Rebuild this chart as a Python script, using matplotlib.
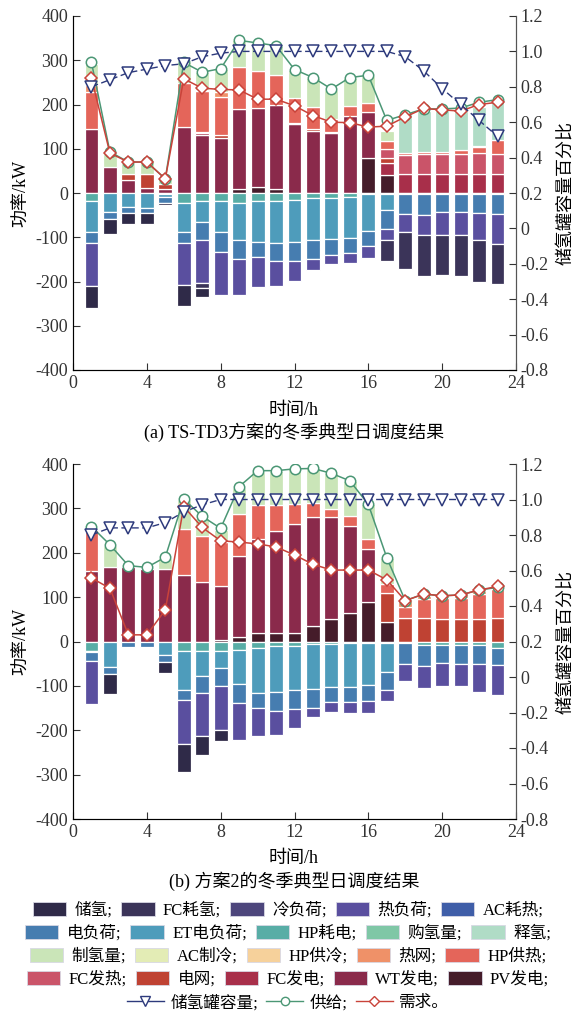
import numpy as np
import matplotlib.pyplot as plt
from matplotlib.patches import Patch
from matplotlib.lines import Line2D

plt.rcParams['font.family'] = ['Liberation Serif', 'Noto Sans CJK SC']
plt.rcParams['axes.unicode_minus'] = False

hours = np.arange(1, 24)
Z = [0] * 23

# ---------------- (a) TS-TD3 方案 ----------------
pv_a   = [0, 0, 0, 0, 0, 0, 0, 0, 8, 14, 9, 0, 0, 0, 0, 78, 41, 0, 0, 0, 0, 0, 0]
wt_a   = [145, 58, 30, 11, 9, 149, 130, 124, 182, 178, 191, 156, 139, 135, 173, 105, 0, 0, 0, 0, 0, 0, 0]
fcp_a  = [0, 0, 0, 0, 0, 0, 5, 0, 0, 0, 0, 0, 0, 0, 0, 0, 27, 44, 44, 44, 44, 44, 44]
grid_a = [0, 0, 14, 33, 12, 0, 0, 6, 0, 0, 0, 0, 5, 0, 0, 0, 11, 0, 0, 0, 0, 0, 0]
fch_a  = [0, 0, 0, 0, 0, 0, 3, 0, 0, 0, 0, 2, 0, 3, 0, 0, 21, 43, 45, 45, 44, 46, 45]
hph_a  = [83, 0, 0, 0, 0, 100, 92, 88, 95, 84, 67, 57, 50, 30, 23, 21, 17, 3, 3, 3, 9, 14, 30]
net_a  = [15, 0, 0, 0, 0, 0, 3, 10, 0, 0, 0, 0, 0, 0, 0, 0, 0, 0, 0, 0, 0, 3, 0]
h2p_a  = [49, 32, 24, 25, 10, 47, 40, 52, 60, 63, 66, 63, 66, 65, 64, 61, 24, 0, 0, 0, 0, 0, 0]
rel_a  = [0, 0, 0, 0, 0, 0, 0, 0, 0, 0, 0, 0, 0, 0, 0, 0, 0, 86, 93, 96, 88, 88, 88]

hpe_a  = [-19, 0, 0, 0, -3, -22, -17, -18, -22, -19, -18, -15, -12, -11, -10, -3, -3, -3, -3, -3, -3, -3, -3]
et_a   = [-70, -44, -31, -33, -5, -67, -49, -71, -85, -91, -95, -95, -95, -94, -92, -82, -36, 0, 0, 0, 0, 0, 0]
el_a   = [-24, -14, -14, -13, -15, -24, -41, -44, -42, -35, -41, -44, -43, -34, -33, -35, -42, -44, -46, -39, -41, -42, -44]
heat_a = [-98, 0, 0, 0, 0, -96, -96, -98, -82, -67, -57, -44, -25, -21, -23, -27, -26, -42, -47, -52, -50, -62, -68]
fcu_a  = [0, 0, 0, 0, 0, 0, -12, 0, 0, 0, 0, 0, 0, 0, 0, 0, -46, -83, -92, -91, -93, -93, -90]
sto_a  = [-50, -34, -24, -24, -5, -47, -20, 0, 0, 0, 0, 0, 0, 0, 0, 0, 0, 0, 0, 0, 0, 0, 0]

tank_a   = [0.80, 0.84, 0.88, 0.90, 0.92, 0.93, 0.97, 0.99, 1.0, 1.0, 1.0, 1.0, 1.0, 1.0, 1.0, 1.0,
            1.0, 0.97, 0.89, 0.79, 0.70, 0.61, 0.52]
supply_a = [295, 93, 70, 70, 32, 295, 273, 281, 345, 339, 333, 279, 261, 235, 261, 266, 164, 177, 190, 190, 192, 205, 211]
demand_a = [260, 90, 70, 70, 32, 258, 237, 234, 233, 212, 212, 197, 175, 160, 159, 149, 151, 172, 191, 188, 185, 200, 205]

# ---------------- (b) 方案2 ----------------
pv_b   = [0, 0, 0, 0, 0, 0, 0, 4, 10, 20, 19, 20, 34, 51, 65, 88, 43, 0, 0, 0, 0, 0, 0]
wt_b   = [159, 169, 169, 164, 164, 150, 134, 121, 183, 211, 230, 245, 246, 229, 196, 121, 0, 0, 0, 0, 0, 0, 0]
grid_b = [0, 0, 0, 0, 0, 0, 0, 0, 0, 0, 0, 0, 0, 0, 0, 0, 67, 53, 54, 51, 51, 51, 54]
hph_b  = [92, 0, 0, 0, 0, 103, 104, 100, 95, 76, 58, 45, 31, 19, 22, 21, 19, 24, 42, 48, 48, 56, 65]
net_b  = [0, 0, 0, 0, 0, 0, 0, 0, 0, 0, 0, 0, 0, 0, 0, 0, 0, 14, 6, 4, 5, 7, 3]
h2p_b  = [0, 47, 0, 0, 24, 66, 41, 27, 59, 76, 77, 80, 79, 80, 79, 79, 59, 0, 0, 0, 0, 0, 0]

hpe_b  = [-21, 0, 0, 0, 0, -22, -22, -22, -20, -15, -11, -10, -5, -5, -4, -3, -4, -4, -8, -7, -8, -8, -14]
et_b   = [-3, -57, 0, 0, -30, -87, -55, -37, -76, -101, -102, -99, -101, -97, -98, -96, -65, 0, 0, 0, 0, 0, 0]
el_b   = [-19, -16, -12, -12, -16, -22, -39, -42, -42, -34, -43, -43, -44, -35, -35, -36, -40, -47, -47, -42, -42, -42, -39]
heat_b = [-97, 0, 0, 0, 0, -99, -98, -99, -83, -64, -54, -42, -21, -21, -23, -25, -26, -39, -49, -51, -50, -64, -67]
sto_b  = [0, -46, 0, 0, -25, -64, -41, -24, 0, 0, 0, 0, 0, 0, 0, 0, 0, 0, 0, 0, 0, 0, 0]

tank_b   = [0.80, 0.84, 0.84, 0.84, 0.87, 0.93, 0.97, 1.0, 1.0, 1.0, 1.0, 1.0, 1.0, 1.0, 1.0, 1.0,
            1.0, 1.0, 1.0, 1.0, 1.0, 1.0, 1.0]
supply_b = [259, 218, 171, 167, 190, 321, 282, 255, 349, 385, 385, 389, 390, 379, 362, 309, 189, 92, 107, 103, 105, 116, 122]
demand_b = [143, 120, 15, 15, 71, 304, 257, 227, 224, 220, 213, 195, 174, 161, 161, 161, 139, 92, 107, 103, 105, 116, 124]

# axis ticks
x_ticks = [0, 4, 8, 12, 16, 20, 24]
y_ticks = [-400, -300, -200, -100, 0, 100, 200, 300, 400]
r_ticks = [-0.8, -0.6, -0.4, -0.2, 0, 0.2, 0.4, 0.6, 0.8, 1.0, 1.2]
r_labels = ['-0.8', '-0.6', '-0.4', '-0.2', '0', '0.2', '0.4', '0.6', '0.8', '1.0', '1.2']

# legend order (negative part, then positive part)
NAMES_NEG = ['储氢', 'FC耗氢', '冷负荷', '热负荷', 'AC耗热', '电负荷', 'ET电负荷', 'HP耗电']
NAMES_POS = ['购氢量', '释氢', '制氢量', 'AC制冷', 'HP供冷', '热网', 'HP供热',
             'FC发热', '电网', 'FC发电', 'WT发电', 'PV发电']
COLORS = {
    '储氢': '#2f2a48', 'FC耗氢': '#3b3459', '冷负荷': '#4d467c', '热负荷': '#5a4f9f',
    'AC耗热': '#3f5ea8', '电负荷': '#467db0', 'ET电负荷': '#4e9cbb', 'HP耗电': '#58ada6',
    '购氢量': '#7fc7a6', '释氢': '#b0dcc6', '制氢量': '#cae5b8', 'AC制冷': '#e3ecb5',
    'HP供冷': '#f6d19b', '热网': '#ef9168', 'HP供热': '#e4655a', 'FC发热': '#ca5469',
    '电网': '#bf4233', 'FC发电': '#a82f4a', 'WT发电': '#8a2a4b', 'PV发电': '#451c2a',
}
C_TANK, C_SUP, C_DEM = '#2d3a7c', '#4b9775', '#c9433a'

series_a = {'PV发电': pv_a, 'WT发电': wt_a, 'FC发电': fcp_a, '电网': grid_a, 'FC发热': fch_a,
            'HP供热': hph_a, '热网': net_a, '制氢量': h2p_a, '释氢': rel_a,
            'HP耗电': hpe_a, 'ET电负荷': et_a, '电负荷': el_a, '热负荷': heat_a,
            'FC耗氢': fcu_a, '储氢': sto_a}
series_b = {'PV发电': pv_b, 'WT发电': wt_b, '电网': grid_b, 'HP供热': hph_b, '热网': net_b,
            '制氢量': h2p_b, 'HP耗电': hpe_b, 'ET电负荷': et_b, '电负荷': el_b,
            '热负荷': heat_b, '储氢': sto_b}

W, H = 576, 1016
fig = plt.figure(figsize=(W / 100, H / 100), dpi=100)
FS = 13


def draw(ax, series, tank, supply, demand):
    base_p = np.zeros(23)
    base_n = np.zeros(23)
    for name in reversed(NAMES_POS):
        v = np.array(series.get(name, Z), float)
        m = v != 0
        ax.bar(hours[m], v[m], bottom=base_p[m], width=0.75, color=COLORS[name],
               edgecolor='white', linewidth=0.9, zorder=2)
        base_p += v
    for name in reversed(NAMES_NEG):
        v = np.array(series.get(name, Z), float)
        m = v != 0
        ax.bar(hours[m], v[m], bottom=base_n[m], width=0.75, color=COLORS[name],
               edgecolor='white', linewidth=0.9, zorder=2)
        base_n += v
    ax.plot(hours, supply, color=C_SUP, lw=1.1, marker='o', ms=7.5, mfc='white',
            mec=C_SUP, mew=1.1, zorder=5)
    ax.plot(hours, demand, color=C_DEM, lw=1.1, marker='D', ms=6.5, mfc='white',
            mec=C_DEM, mew=1.1, zorder=6)
    ax.set_xlim(0, 24)
    ax.set_ylim(-400, 400)
    ax.set_xticks(x_ticks)
    ax.set_yticks(y_ticks)
    ax.tick_params(direction='in', labelsize=FS, length=5, colors='#333333')
    ax.spines['top'].set_visible(False)
    for s in ('left', 'bottom', 'right'):
        ax.spines[s].set_color('#555555')
    ax2 = ax.twinx()
    ax2.plot(hours, tank, color=C_TANK, lw=1.0, ls=(0, (5, 2.5)), marker='v', ms=8.5,
             mfc='white', mec=C_TANK, mew=1.1, zorder=7)
    ax2.set_ylim(-0.8, 1.2)
    ax2.set_yticks(r_ticks)
    ax2.set_yticklabels(r_labels)
    ax2.tick_params(direction='in', labelsize=FS, length=5, colors='#333333')
    ax2.spines['top'].set_visible(False)
    ax2.spines['right'].set_color('#555555')


ax_a = fig.add_axes([73 / W, 1 - 370 / H, 443 / W, 354 / H])
draw(ax_a, series_a, tank_a, supply_a, demand_a)
ax_b = fig.add_axes([73 / W, 1 - 819 / H, 443 / W, 355 / H])
draw(ax_b, series_b, tank_b, supply_b, demand_b)

# axis titles and captions
for top, bot, cap in ((16, 370, '(a) TS-TD3方案的冬季典型日调度结果'),
                      (464, 819, '(b) 方案2的冬季典型日调度结果')):
    mid = 1 - (top + bot) / 2 / H
    fig.text(22 / W, mid, '功率/kW', rotation=90, ha='center', va='center', fontsize=FS)
    fig.text(566 / W, mid, '储氢罐容量百分比', rotation=90, ha='center', va='center', fontsize=FS)
    fig.text(294 / W, 1 - (bot + 40) / H, '时间/h', ha='center', va='center', fontsize=FS)
    fig.text(294 / W, 1 - (bot + 62) / H, cap, ha='center', va='center', fontsize=FS)

# legend: one row per legend, like the reference
LFS = 12
names_all = NAMES_NEG + NAMES_POS
rows = [names_all[0:5], names_all[5:10], names_all[10:15], names_all[15:20]]
row_y = [910, 933, 956, 979]
for names, y in zip(rows, row_y):
    hs = [Patch(facecolor=COLORS[n], edgecolor='#d8d8e4', linewidth=0.6) for n in names]
    fig.legend(hs, [n + ';' for n in names], loc='center', bbox_to_anchor=(0.5, 1 - y / H),
               ncol=5, frameon=False, fontsize=LFS, handlelength=2.0, handleheight=0.9,
               handletextpad=0.5, columnspacing=0.55, borderpad=0, borderaxespad=0)

line_h = [Line2D([], [], color=C_TANK, lw=1.0, marker='v', ms=7, mfc='white', mec=C_TANK),
          Line2D([], [], color=C_SUP, lw=1.0, marker='o', ms=6, mfc='white', mec=C_SUP),
          Line2D([], [], color=C_DEM, lw=1.0, marker='D', ms=5.5, mfc='white', mec=C_DEM)]
fig.legend(line_h, ['储氢罐容量;', '供给;', '需求。'], loc='center',
           bbox_to_anchor=(0.5, 1 - 1003 / H), ncol=3, frameon=False, fontsize=LFS,
           handlelength=2.2, handletextpad=0.4, columnspacing=0.5, borderpad=0, borderaxespad=0)

fig.savefig('out.png', dpi=100)
